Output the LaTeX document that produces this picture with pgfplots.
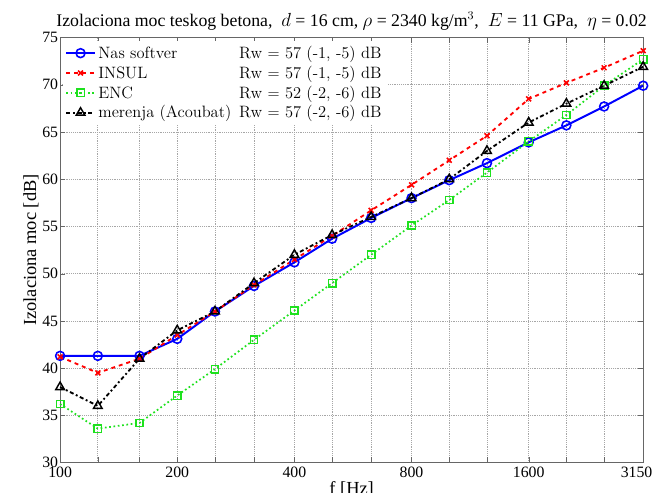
\documentclass[border=0pt]{standalone}
\usepackage{pgfplots}
\pgfplotsset{compat=1.18}
\usepackage{fontspec}
\newfontfamily\tnr{Liberation Serif}
\newlength\lw
\begin{document}
\settowidth{\lw}{\fontsize{12.5}{14}\selectfont merenja (Acoubat)}
\addtolength{\lw}{6pt}
\begin{tikzpicture}
\definecolor{ggreen}{RGB}{30,225,30}
\begin{axis}[
  scale only axis,
  width=443pt, height=323pt,
  xmode=log,
  xmin=100, xmax=3150, ymin=30, ymax=75,
  xtick={100,125,160,200,250,315,400,500,630,800,1000,1250,1600,2000,2500,3150},
  xticklabels={100,,,200,,,400,,,800,,,1600,,,{\hspace*{-10pt}3150}},
  minor xtick={},
  ytick={30,35,...,75},
  tick align=inside,
  major tick length=4pt,
  grid=major,
  major grid style={densely dotted, gray!70, line width=0.5pt},
  axis line style={gray!80!black, line width=0.8pt},
  tick style={gray!80!black},
  /pgf/number format/assume math mode=true,
  tick label style={font=\tnr\fontsize{12}{14}\selectfont},
  xticklabel style={yshift=0pt},
  yticklabel style={xshift=2pt},
  xlabel={\tnr\fontsize{14}{16}\selectfont f [Hz]},
  ylabel={\tnr\fontsize{14}{16}\selectfont Izolaciona moc [dB]},
  xlabel style={yshift=4pt},
  ylabel style={yshift=-4pt},
  title={\tnr\fontsize{13.5}{15}\selectfont Izolaciona moc teskog betona, \ $d$ = 16 cm, $\rho$ = 2340 kg/m$^3$, \ $E$ = 11 GPa, \ $\eta$ = 0.02},
  title style={yshift=-4pt},
  legend style={at={(rel axis cs:0.004,0.993)}, anchor=north west, draw=none, fill=white,
    font=\fontsize{12.5}{14}\selectfont, row sep=0.2pt, inner sep=2pt},
  legend image code/.code={\draw[mark repeat=2,mark phase=2] plot coordinates {(0cm,0cm)(0.38cm,0cm)(0.76cm,0cm)};},
  legend cell align=left,
  clip=false,
]
\addplot[blue, line width=1.5pt, mark=o, mark size=3.4pt, mark options={solid, line width=1.2pt}] coordinates {
(100,41.3)(125,41.3)(160,41.3)(200,43.1)(250,46)(315,48.7)(400,51.2)(500,53.7)(630,55.9)(800,58)(1000,59.9)(1250,61.7)(1600,63.9)(2000,65.7)(2500,67.7)(3150,69.9)};
\addlegendentry{\makebox[\lw][l]{Nas softver}Rw $=$ 57 (-1, -5) dB}
\addplot[red, line width=1.4pt, dashed, mark=x, mark size=2.6pt, mark options={solid, line width=1.2pt}] coordinates {
(100,41.2)(125,39.5)(160,41)(200,43.5)(250,46)(315,48.8)(400,51.5)(500,54)(630,56.7)(800,59.4)(1000,62)(1250,64.6)(1600,68.5)(2000,70.2)(2500,71.8)(3150,73.6)};
\addlegendentry{\makebox[\lw][l]{INSUL}Rw $=$ 57 (-1, -5) dB}
\addplot[ggreen, line width=1.3pt, dotted, mark=square, mark size=2.8pt, mark options={solid, line width=1.1pt}] coordinates {
(100,36.2)(125,33.6)(160,34.2)(200,37.1)(250,39.9)(315,43)(400,46.1)(500,49)(630,52)(800,55.1)(1000,57.8)(1250,60.7)(1600,64)(2000,66.8)(2500,69.9)(3150,72.7)};
\addlegendentry{\makebox[\lw][l]{ENC}Rw $=$ 52 (-2, -6) dB}
\addplot[black, line width=1.4pt, dash dot, mark=triangle, mark size=3.8pt, mark options={solid, line width=1.1pt}] coordinates {
(100,38)(125,36)(160,41)(200,44)(250,46)(315,49)(400,52)(500,54.1)(630,56)(800,58)(1000,60)(1250,63)(1600,66)(2000,68)(2500,69.9)(3150,71.9)};
\addlegendentry{\makebox[\lw][l]{merenja (Acoubat)}Rw $=$ 57 (-2, -6) dB}
\coordinate (sw) at (rel axis cs:0,0);
\coordinate (ne) at (rel axis cs:1,1);
\end{axis}
\pgfresetboundingbox
\useasboundingbox ([xshift=-39pt,yshift=-22.5pt]sw) rectangle ([xshift=8.25pt,yshift=28.5pt]ne);
\end{tikzpicture}
\end{document}
